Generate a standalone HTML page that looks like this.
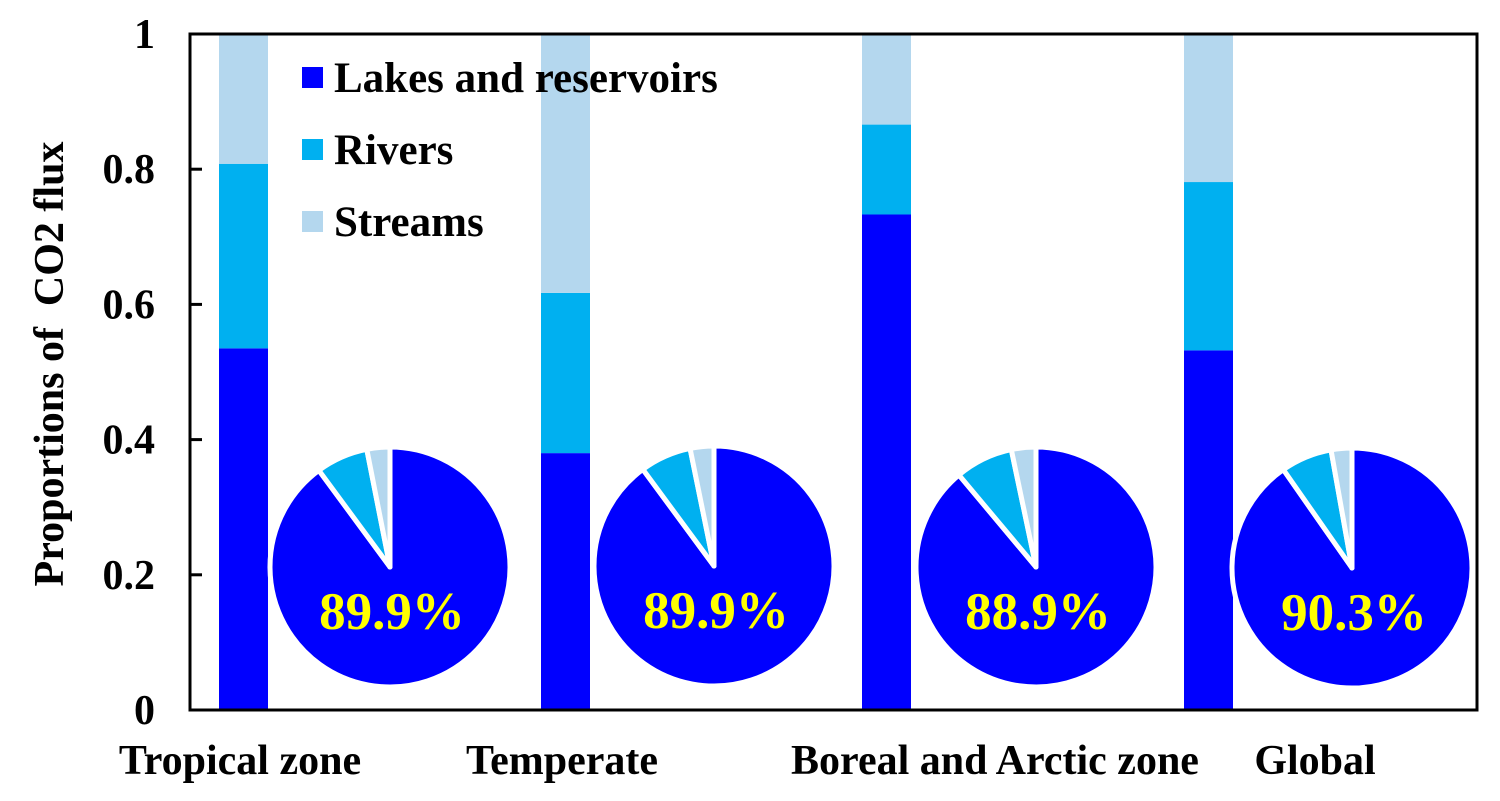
<!DOCTYPE html>
<html><head><meta charset="utf-8"><style>
body{margin:0;background:#fff}
svg{display:block;font-family:"Liberation Serif",serif;font-weight:bold}
</style></head><body>
<svg id="c" width="1500" height="801" viewBox="0 0 1500 801"></svg>
<script>
const categories=["Tropical zone","Temperate","Boreal and Arctic zone","Global"];
const lakes=[0.535,0.380,0.733,0.532];
const rivers=[0.273,0.237,0.133,0.249];
const streams=[0.192,0.383,0.134,0.219];
const pieLakes=[89.9,89.9,88.9,90.3];
const pieRivers=[7.0,6.9,7.8,6.9];
const pieStreams=[3.1,3.2,3.3,2.8];
const yTicks=[0,0.2,0.4,0.6,0.8,1];
const yTickLabels=["0","0.2","0.4","0.6","0.8","1"];
const seriesNames=["Lakes and reservoirs","Rivers","Streams"];
const colors=["#0000FF","#00B0F0","#B4D7EE"];

const NS="http://www.w3.org/2000/svg",svg=document.getElementById('c');
function mk(t,a,p){const e=document.createElementNS(NS,t);for(const k in a)e.setAttribute(k,a[k]);(p||svg).appendChild(e);return e;}
const L=190,R=1477,T=34,B=710;
const y=v=>B-v*(B-T);
const barX=[219,541,862,1184],barW=49;
const pieCx=[390,714,1036,1352],pieCy=[567,566,567,568],pieR=120;

for(let i=0;i<categories.length;i++){
  let base=0;const vals=[lakes[i],rivers[i],streams[i]];
  for(let s=0;s<3;s++){
    const r=mk('rect',{x:barX[i],y:y(base+vals[s]),width:barW,height:y(base)-y(base+vals[s]),fill:colors[s]});
    
    
    base+=vals[s];
  }
}
function arc(cx,cy,r,a0,a1){
  const p=a=>[cx+r*Math.sin(a),cy-r*Math.cos(a)];
  const [x0,y0]=p(a0),[x1,y1]=p(a1);
  return `M${cx},${cy} L${x0},${y0} A${r},${r} 0 ${a1-a0>Math.PI?1:0} 1 ${x1},${y1} Z`;
}
for(let i=0;i<categories.length;i++){
  const vals=[pieLakes[i],pieRivers[i],pieStreams[i]];
  const tot=vals[0]+vals[1]+vals[2];let a=0;
  for(let s=0;s<3;s++){
    const a1=a+vals[s]/tot*2*Math.PI;
    const p=mk('path',{d:arc(pieCx[i],pieCy[i],pieR,a,a1),fill:colors[s],stroke:'#fff','stroke-width':5,'stroke-linejoin':'round'});
    
    
    a=a1;
  }
  const t=mk('text',{x:pieCx[i]+2,y:pieCy[i]+62,'text-anchor':'middle','font-size':53,fill:'#FFFF00'});
  t.textContent=pieLakes[i].toFixed(1)+'%';
  
  
}
const f=mk('rect',{x:L,y:T,width:R-L,height:B-T,fill:'none',stroke:'#000','stroke-width':3});


for(let i=0;i<yTicks.length;i++){
  const yy=y(yTicks[i]);
  const tk=mk('line',{x1:L,x2:L+12,y1:yy,y2:yy,stroke:'#000','stroke-width':3});
  
  
  const t=mk('text',{x:155,y:yy+14,'text-anchor':'end','font-size':42});
  t.textContent=yTickLabels[i];
  
  
}
const xLabX=[240,562,995,1315];
for(let i=0;i<categories.length;i++){
  const t=mk('text',{x:xLabX[i],y:774,'text-anchor':'middle','font-size':42});
  t.textContent=categories[i];
  
  
}
const yt=mk('text',{x:0,y:0,transform:'translate(63,364) rotate(-90)','text-anchor':'middle','font-size':42});
yt.textContent='Proportions of \u00a0CO2 flux';


const legY=[78,150,222];
for(let s=0;s<3;s++){
  const g=mk('g',{});
  
  
  mk('rect',{x:302,y:legY[s]-11,width:21,height:21,fill:colors[s]},g);
  const t=mk('text',{x:334,y:legY[s]+14,'font-size':43},g);
  t.textContent=seriesNames[s];
}
</script>
</body></html>
